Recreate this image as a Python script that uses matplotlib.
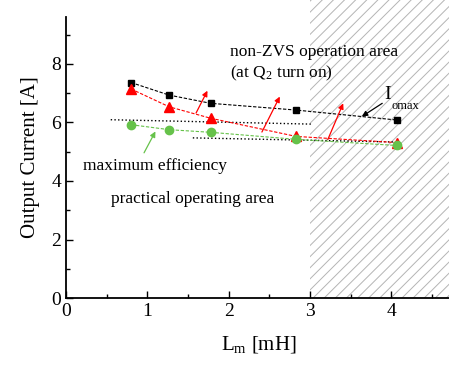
import matplotlib.pyplot as plt
from matplotlib.patches import Rectangle
from matplotlib.ticker import MultipleLocator

plt.rcParams['font.family'] = ['Liberation Serif', 'DejaVu Serif']
plt.rcParams['mathtext.fontset'] = 'custom'
plt.rcParams['mathtext.rm'] = 'Liberation Serif'
plt.rcParams['mathtext.it'] = 'Liberation Serif'
plt.rcParams['hatch.linewidth'] = 0.7

# === DATA ===
lm = [0.80, 1.27, 1.78, 2.83, 4.07]
i_omax = [7.36, 6.93, 6.65, 6.42, 6.08]
i_zvs = [7.14, 6.53, 6.14, 5.52, 5.31]
i_eff = [5.92, 5.75, 5.66, 5.42, 5.21]

# dotted guide lines (x pairs, y pairs)
guide1_x = [0.55, 3.02]
guide1_y = [6.09, 5.94]
guide2_x = [1.56, 4.05]
guide2_y = [5.47, 5.33]

# red arrows: (tail, head)
red_arrows = [((1.60, 6.32), (1.74, 7.08)),
              ((2.41, 5.67), (2.63, 6.88)),
              ((3.22, 5.41), (3.41, 6.65))]

# === PLOT ===
fig = plt.figure(figsize=(4.49, 3.68), dpi=100)
ax = fig.add_axes([0.147, 0.19, 0.86, 0.764])

# non-ZVS hatched region
ax.add_patch(Rectangle((3.0, 0), 3.0, 10.4, facecolor='none', edgecolor='#b4b4b4',
                       hatch='///', linewidth=0, clip_on=False, zorder=0))

ax.plot(guide1_x, guide1_y, ':', color='black', lw=1.0)
ax.plot(guide2_x, guide2_y, ':', color='black', lw=1.0)

ax.plot(lm, i_omax, linestyle=(0, (3, 1.5)), color='black', lw=0.8,
        marker='s', ms=5, mfc='black', mec='black', zorder=3)
ax.plot(lm, i_zvs, linestyle=(0, (3, 1.5)), color='red', lw=0.8,
        marker='^', ms=7, mfc='red', mec='red', zorder=3)
ax.plot(lm, i_eff, linestyle=(0, (3, 1.5)), color='#66c24a', lw=0.8,
        marker='o', ms=6, mfc='#66c24a', mec='#66c24a', zorder=3)

for tail, head in red_arrows:
    ax.annotate('', xy=head, xytext=tail,
                arrowprops=dict(arrowstyle='-|>', color='red', lw=0.9,
                                mutation_scale=8, shrinkA=0, shrinkB=0))

ax.annotate('', xy=(1.10, 5.69), xytext=(0.96, 4.96),
            arrowprops=dict(arrowstyle='-|>', color='#66c24a', lw=0.9,
                            mutation_scale=8, shrinkA=0, shrinkB=0))
ax.annotate('', xy=(3.64, 6.20), xytext=(3.89, 6.65),
            arrowprops=dict(arrowstyle='-|>', color='black', lw=0.9,
                            mutation_scale=8, shrinkA=0, shrinkB=0))

ax.text(2.02, 8.4, 'non-ZVS operation area', fontsize=12.5, va='center', ha='left')
ax.text(2.02, 7.67, r'(at Q$_2$ turn on)', fontsize=12.5, va='center', ha='left')
ax.text(3.91, 6.95, 'I', fontsize=14, va='center', ha='left')
ax.text(4.0, 6.55, 'omax', fontsize=9, va='center', ha='left')
ax.text(0.21, 4.5, 'maximum efficiency', fontsize=12.5, va='center', ha='left')
ax.text(0.55, 3.39, 'practical operating area', fontsize=12.5, va='center', ha='left')

ax.set_xlim(0, 4.75)
ax.set_ylim(0, 9.6)
ax.xaxis.set_major_locator(MultipleLocator(1))
ax.xaxis.set_minor_locator(MultipleLocator(0.5))
ax.yaxis.set_major_locator(MultipleLocator(2))
ax.yaxis.set_minor_locator(MultipleLocator(1))
ax.tick_params(which='both', direction='in', labelsize=14)
ax.tick_params(which='major', length=5, width=1)
ax.tick_params(which='minor', length=3, width=1)
ax.spines['top'].set_visible(False)
ax.spines['right'].set_visible(False)
ax.spines['left'].set_linewidth(1.3)
ax.spines['bottom'].set_linewidth(1.3)

ax.set_xlabel(r'L$_{\rm m}$ [mH]', fontsize=15, labelpad=10)
ax.set_ylabel('Output Current [A]', fontsize=15, labelpad=8)

fig.savefig('out.png', dpi=100)
